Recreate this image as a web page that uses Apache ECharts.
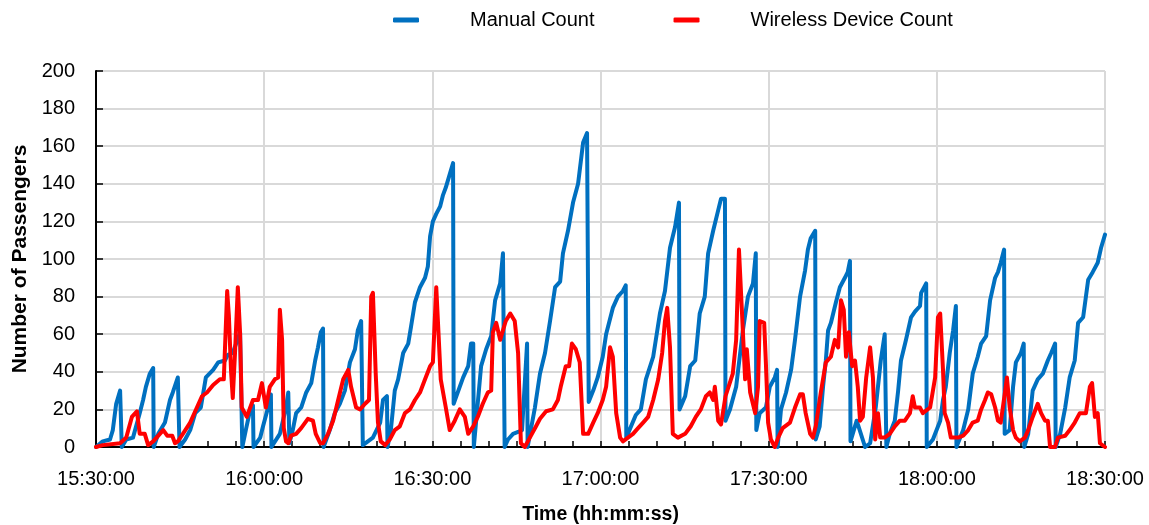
<!DOCTYPE html>
<html>
<head>
<meta charset="utf-8">
<title>Passenger counts</title>
<script src="https://cdn.jsdelivr.net/npm/echarts@6/dist/echarts.min.js"></script>
<style>
  html, body { margin: 0; padding: 0; background: #ffffff; }
  #chart { width: 1149px; height: 525px; }
</style>
</head>
<body>
<div id="chart"></div>
<script>
// Minutes elapsed since 15:30:00 paired with the passenger count at that moment.
const manualCount = [
  [0.0,0],[1.2,3],[2.5,4],[3.0,9],[3.6,23],[4.3,30],[4.5,31],[4.6,0],[5.4,4],[6.6,5],[7.8,18],[8.4,25],[8.9,32],[9.6,39],[10.2,42],[10.3,0],
  [11.1,7],[12.3,13],[13.2,25],[13.7,29],[14.6,37],[14.8,38],[14.9,0],[15.9,4],[16.8,9],[17.7,18],[18.7,21],[19.6,37],[20.9,41],[21.8,45],
  [23.0,46],[23.5,49],[24.4,50],[25.7,61],[26.0,60],[26.1,0],[26.8,10],[27.6,21],[28.0,22],[28.1,0],[29.3,5],[29.8,11],[30.7,21],[31.2,28],
  [31.3,0],[32.8,7],[33.9,21],[34.3,29],[34.4,29],[34.5,2],[35.1,9],[35.7,18],[36.6,21],[37.5,29],[38.4,34],[39.1,46],[39.6,53],[40.1,61],
  [40.5,63],[40.6,0],[41.7,9],[42.6,18],[43.5,23],[44.4,30],[45.3,45],[46.2,52],[46.7,62],[47.3,67],[47.5,67],[47.6,1],[49.4,5],[50.7,13],
  [51.2,25],[51.9,27],[52.0,0],[52.6,9],[53.3,30],[53.9,36],[54.8,50],[55.7,55],[56.2,64],[56.9,77],[57.8,85],[58.7,90],[59.2,96],[59.6,112],
  [60.1,120],[60.7,124],[61.4,128],[61.9,134],[62.4,138],[63.1,145],[63.7,151],[63.8,23],[65.5,37],[66.4,43],[66.9,55],[67.3,55],[67.4,0],
  [68.7,43],[69.6,52],[70.5,59],[71.2,78],[72.1,87],[72.6,103],[72.8,103],[72.9,0],[73.5,4],[74.4,7],[75.3,8],[76.0,9],[76.9,55],[77.0,0],
  [78.3,21],[79.2,39],[80.1,50],[81.0,67],[81.9,85],[82.8,88],[83.3,103],[84.2,115],[85.1,130],[86.0,140],[86.9,162],[87.6,167],[87.8,167],
  [87.9,24],[88.7,30],[89.5,37],[90.4,48],[91.0,60],[92.2,74],[93.1,80],[94.0,83],[94.5,86],[94.6,5],[96.3,17],[97.2,20],[98.1,36],[99.4,48],
  [100.6,71],[101.5,83],[102.4,106],[103.3,117],[104.0,130],[104.1,20],[105.1,27],[106.0,43],[106.9,46],[107.7,71],[108.6,80],[109.2,103],
  [110.1,115],[111.0,126],[111.5,132],[112.2,132],[112.3,14],[113.1,20],[114.2,32],[115.4,62],[116.3,80],[117.2,87],[117.7,103],[117.8,9],
  [118.4,18],[119.5,21],[120.2,32],[121.1,37],[121.5,41],[121.6,0],[122.2,20],[123.1,29],[124.0,41],[124.7,57],[125.6,80],[126.5,94],
  [127.0,105],[127.5,111],[128.3,115],[128.4,4],[129.1,11],[129.7,32],[130.2,46],[130.6,62],[131.1,66],[132.0,77],[132.7,85],[133.6,90],
  [134.1,93],[134.5,99],[134.6,3],[135.7,14],[137.2,0],[138.1,2],[139.1,21],[140.0,46],[140.7,60],[140.9,60],[141.0,0],[141.6,7],[142.5,14],
  [143.1,30],[143.6,46],[144.5,57],[145.4,69],[146.1,72],[147.0,75],[147.2,82],[148.1,87],[148.2,0],[149.3,4],[150.6,14],[151.1,25],[151.6,32],
  [152.3,50],[152.9,62],[153.4,75],[153.5,0],[154.7,9],[155.6,20],[156.4,39],[157.3,48],[157.9,55],[158.8,59],[159.5,78],[160.4,90],[160.9,93],
  [161.4,98],[162.0,105],[162.1,7],[163.0,9],[163.6,32],[164.1,45],[165.0,50],[165.5,55],[165.6,0],[166.3,7],[167.1,30],[168.0,36],[168.9,39],
  [169.8,46],[170.4,50],[171.1,55],[171.2,0],[172.0,7],[172.9,21],[173.7,37],[174.6,46],[175.2,66],[176.1,69],[177.0,89],[177.8,93],[178.7,98],
  [179.3,106],[180.0,113]
];

const wirelessCount = [
  [0.0,0],[1.2,1],[4.3,2],[5.4,5],[5.7,6],[6.4,16],[7.3,19],[7.8,7],[8.7,7],[9.3,1],[10.2,3],[11.4,7],[12.0,9],[12.7,6],[13.6,6],[14.1,2],
  [14.6,3],[15.5,7],[16.8,13],[18.0,21],[18.9,27],[19.8,29],[20.9,33],[22.1,36],[22.8,36],[23.4,83],[23.7,70],[24.1,40],[24.4,26],[24.8,50],
  [25.3,85],[25.7,61],[26.0,21],[26.9,16],[28.0,25],[28.9,25],[29.6,34],[30.3,21],[31.0,32],[31.9,36],[32.5,37],[32.8,73],[33.2,57],[33.5,10],
  [33.9,3],[34.3,2],[34.8,6],[35.7,7],[36.6,10],[37.8,15],[38.7,14],[39.2,7],[40.0,2],[40.5,2],[41.4,7],[42.3,14],[43.2,25],[44.1,36],[45.0,41],
  [45.5,32],[46.4,21],[47.1,20],[48.0,23],[48.7,25],[49.1,80],[49.4,82],[49.9,39],[50.3,13],[50.8,3],[51.6,1],[52.4,4],[53.3,9],[54.2,11],
  [55.1,18],[56.0,20],[56.9,25],[57.8,29],[58.7,36],[59.6,43],[60.1,45],[60.7,85],[60.8,85],[61.5,36],[62.4,21],[63.1,9],[64.0,14],[64.9,20],
  [65.8,16],[66.4,7],[67.3,11],[68.1,16],[69.0,23],[69.9,29],[70.5,30],[70.8,61],[71.4,66],[72.1,57],[72.6,62],[73.1,67],[73.9,71],[74.7,67],
  [75.3,50],[75.8,2],[76.5,0],[77.4,5],[78.5,11],[79.2,15],[80.3,19],[81.5,20],[82.4,25],[82.9,32],[83.8,43],[84.4,43],[84.9,55],[85.6,52],
  [86.3,45],[86.9,7],[87.8,7],[88.7,13],[89.5,18],[90.4,25],[91.0,32],[91.7,53],[92.2,48],[92.8,18],[93.5,5],[94.0,3],[94.9,5],[95.8,7],
  [96.7,10],[97.6,13],[98.5,16],[99.4,25],[100.3,36],[101.0,50],[101.5,67],[101.9,74],[102.4,53],[102.9,7],[103.8,5],[105.1,7],[106.1,11],
  [107.0,16],[107.9,20],[108.8,27],[109.5,29],[110.1,25],[110.4,32],[111.0,14],[111.5,12],[112.3,27],[113.6,39],[114.2,57],[114.7,105],
  [115.2,74],[115.8,36],[116.1,52],[116.7,29],[117.6,18],[118.1,32],[118.4,67],[119.2,66],[119.5,45],[119.9,13],[120.4,4],[121.1,0],[121.7,5],
  [122.5,10],[123.8,13],[124.7,21],[125.6,28],[126.1,28],[126.6,18],[127.4,7],[127.9,5],[128.4,11],[129.3,29],[130.2,45],[131.1,48],[131.8,57],
  [132.4,53],[132.9,78],[133.4,73],[133.8,48],[134.3,61],[134.9,43],[135.4,46],[135.9,32],[136.3,14],[136.8,16],[137.4,37],[138.1,53],
  [138.6,37],[139.0,4],[139.5,18],[139.9,5],[140.7,5],[141.6,7],[142.5,11],[143.4,14],[144.3,14],[145.2,18],[145.7,27],[146.1,21],[147.0,21],
  [147.5,18],[148.8,21],[149.7,37],[150.2,69],[150.6,71],[151.1,41],[151.4,18],[152.0,13],[152.5,5],[153.8,5],[154.7,6],[155.6,9],[156.4,13],
  [157.3,14],[157.9,20],[158.6,25],[159.1,29],[159.7,28],[160.4,21],[160.9,14],[161.4,13],[162.2,30],[162.5,37],[163.0,21],[163.6,9],
  [164.1,5],[164.8,3],[165.7,5],[166.3,9],[167.1,16],[168.0,23],[168.6,18],[169.3,14],[169.8,14],[170.2,0],[171.1,0],[171.6,5],[172.9,6],
  [173.7,9],[174.6,13],[175.5,18],[176.6,18],[177.3,32],[177.7,34],[178.2,16],[178.7,18],[179.1,2],[180.0,0]
];

const seriesNames = ['Manual Count', 'Wireless Device Count'];
const xTickLabels = ['15:30:00', '16:00:00', '16:30:00', '17:00:00', '17:30:00', '18:00:00', '18:30:00'];
const yTickValues = [0, 20, 40, 60, 80, 100, 120, 140, 160, 180, 200];

const FONT = "'Liberation Sans', Arial, sans-serif";
const GRID_COLOR = '#d9d9d9';

const chart = echarts.init(document.getElementById('chart'), null, { renderer: 'canvas' });

chart.setOption({
  animation: false,
  backgroundColor: '#ffffff',
  textStyle: { fontFamily: FONT },
  legend: {
    left: 388,
    top: 5,
    itemWidth: 26,
    itemHeight: 5,
    itemGap: 79,
    icon: 'roundRect',
    data: seriesNames,
    textStyle: { fontFamily: FONT, fontSize: 20, color: '#000000', padding: [0, 0, 0, 46] }
  },
  grid: { left: 96, right: 44, top: 71, bottom: 78, containLabel: false, outerBoundsMode: 'none' },
  xAxis: {
    type: 'value',
    min: 0,
    max: 180,
    interval: 30,
    name: 'Time (hh:mm:ss)',
    nameLocation: 'middle',
    nameGap: 58,
    nameTextStyle: { fontFamily: FONT, fontSize: 19.5, fontWeight: 'bold', color: '#000000' },
    axisLine: { show: true, onZero: false, lineStyle: { color: '#000000', width: 2 } },
    axisTick: { show: true, inside: true, length: 6, lineStyle: { color: '#000000', width: 1.5 } },
    minorTick: { show: true, splitNumber: 6, length: 6, lineStyle: { color: '#000000', width: 1.5 } },
    axisLabel: {
      margin: 22,
      fontFamily: FONT,
      fontSize: 20,
      color: '#000000',
      formatter: function (v) { return xTickLabels[Math.round(v / 30)] || ''; }
    },
    splitLine: { show: true, lineStyle: { color: GRID_COLOR, width: 2 } }
  },
  yAxis: {
    type: 'value',
    min: yTickValues[0],
    max: yTickValues[yTickValues.length - 1],
    interval: yTickValues[1] - yTickValues[0],
    name: 'Number of Passengers',
    nameLocation: 'middle',
    nameGap: 60,
    nameTextStyle: { fontFamily: FONT, fontSize: 21, fontWeight: 'bold', color: '#000000' },
    axisLine: { show: true, lineStyle: { color: '#000000', width: 2 } },
    axisTick: { show: true, inside: true, length: 7, lineStyle: { color: '#000000', width: 1.5 } },
    axisLabel: { margin: 21, fontFamily: FONT, fontSize: 20, color: '#000000' },
    splitLine: { show: true, lineStyle: { color: GRID_COLOR, width: 2 } }
  },
  series: [
    {
      name: seriesNames[0],
      type: 'line',
      data: manualCount,
      showSymbol: false,
      symbol: 'none',
      color: '#0070C0',
      lineStyle: { color: '#0070C0', width: 4, join: 'round', cap: 'round' },
      z: 2
    },
    {
      name: seriesNames[1],
      type: 'line',
      data: wirelessCount,
      showSymbol: false,
      symbol: 'none',
      color: '#FF0000',
      lineStyle: { color: '#FF0000', width: 4, join: 'round', cap: 'round' },
      z: 3
    }
  ]
});
</script>
</body>
</html>
